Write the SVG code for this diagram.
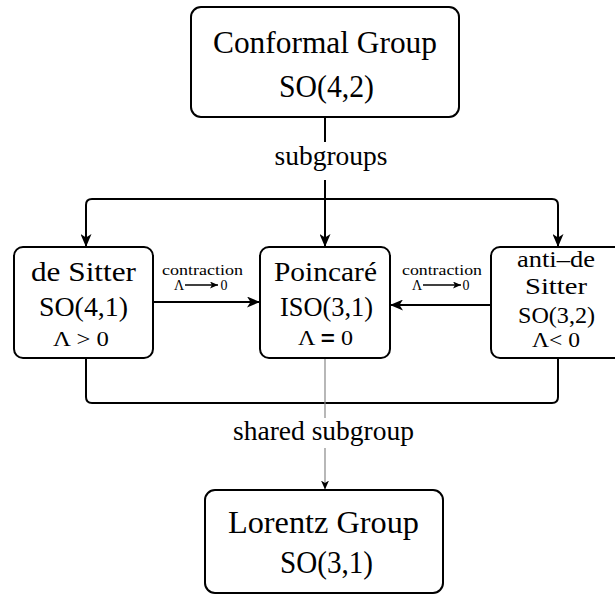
<svg xmlns="http://www.w3.org/2000/svg" width="615" height="594" viewBox="0 0 615 594">
<defs>
<style>
.box{fill:#fff;stroke:#000;stroke-width:2}
.ln{fill:none;stroke:#000;stroke-width:2}
.gl{fill:none;stroke:#888;stroke-width:1.2}
.sl{fill:none;stroke:#000;stroke-width:1.3}
text{fill:#000;text-anchor:middle}
.big{font-size:31px}
.mid{font-size:27px}
.ads{font-size:24px}
.lam{font-size:21px}
.sm{font-size:14px}
</style>
<marker id="arr" viewBox="0 0 13 11" refX="12" refY="5.5" markerWidth="13" markerHeight="11" orient="auto" markerUnits="userSpaceOnUse">
<path d="M0,0 L13,5.5 L0,11 L3.5,5.5 Z" fill="#000"/>
</marker>
<marker id="arrS" viewBox="0 0 9 8" refX="8.5" refY="4" markerWidth="9" markerHeight="8" orient="auto" markerUnits="userSpaceOnUse">
<path d="M0,0 L9,4 L0,8 L2.5,4 Z" fill="#000"/>
</marker>
<marker id="arrT" viewBox="0 0 8 7" refX="8" refY="3.5" markerWidth="8" markerHeight="7" orient="auto" markerUnits="userSpaceOnUse">
<path d="M0,0 L8,3.5 L0,7 L2,3.5 Z" fill="#000"/>
</marker>
</defs>
<rect width="615" height="594" fill="#fff"/>

<g font-family="Liberation Serif, DejaVu Serif, serif">
<g id="connectors">
<path class="ln" d="M325,117 V142"/>
<path class="ln" d="M325,180 V199"/>
<path class="ln" d="M86,246 V205 Q86,199 92,199 H552 Q558,199 558,205 V246" marker-end="url(#arr)"/>
<path class="ln" d="M86,205 V246" marker-end="url(#arr)"/>
<path class="ln" d="M325,199 V246" marker-end="url(#arr)"/>
<path class="ln" d="M153,302 H259" marker-end="url(#arr)"/>
<path class="ln" d="M491,305 H391" marker-end="url(#arr)"/>
<path class="ln" d="M86,358 V397 Q86,403 92,403 H552 Q558,403 558,397 V358"/>
<path class="gl" d="M325,358 V418"/>
<path class="gl" d="M325,448 V489" marker-end="url(#arrS)"/>
<text class="mid" x="331" y="165" textLength="113" lengthAdjust="spacingAndGlyphs">subgroups</text>
<text class="mid" x="323.5" y="440" textLength="181" lengthAdjust="spacingAndGlyphs">shared subgroup</text>
<g id="label-contraction-left">
<text class="sm" x="202.5" y="275" textLength="81" lengthAdjust="spacingAndGlyphs">contraction</text>
<text class="sm" x="179" y="290" font-size="16">Λ</text>
<path class="sl" d="M185,285 H218" marker-end="url(#arrT)"/>
<text class="sm" x="224" y="290">0</text>
</g>
<g id="label-contraction-right">
<text class="sm" x="442" y="275" textLength="80" lengthAdjust="spacingAndGlyphs">contraction</text>
<text class="sm" x="417" y="290" font-size="16">Λ</text>
<path class="sl" d="M423,285 H461" marker-end="url(#arrT)"/>
<text class="sm" x="466" y="290">0</text>
</g>
</g>

<g id="conformal">
<rect class="box" x="191" y="7" width="268" height="110" rx="10"/>
<text class="big" x="325" y="53" textLength="224" lengthAdjust="spacingAndGlyphs">Conformal Group</text>
<text class="big" x="326.5" y="97" textLength="95" lengthAdjust="spacingAndGlyphs">SO(4,2)</text>
</g>

<g id="desitter">
<rect class="box" x="14" y="247" width="139" height="111" rx="9"/>
<text class="mid" x="83.5" y="281" textLength="105" lengthAdjust="spacingAndGlyphs">de Sitter</text>
<text class="mid" x="83.5" y="316" textLength="89" lengthAdjust="spacingAndGlyphs">SO(4,1)</text>
<text class="lam" x="81" y="346" textLength="56" lengthAdjust="spacingAndGlyphs">Λ &gt; 0</text>
</g>

<g id="poincare">
<rect class="box" x="260" y="247" width="130" height="111" rx="9"/>
<text class="mid" x="325.5" y="281" textLength="103" lengthAdjust="spacingAndGlyphs">Poincaré</text>
<text class="mid" x="326.5" y="316" textLength="93" lengthAdjust="spacingAndGlyphs">ISO(3,1)</text>
<text class="lam" x="325.5" y="345" textLength="55" lengthAdjust="spacingAndGlyphs">Λ <tspan font-family="Liberation Sans, sans-serif" font-weight="bold">=</tspan> 0</text>
</g>

<g id="antidesitter">
<rect class="box" x="491" y="247" width="134" height="111" rx="9"/>
<text class="ads" x="556" y="267" textLength="78" lengthAdjust="spacingAndGlyphs">anti–de</text>
<text class="ads" x="556" y="294" textLength="62" lengthAdjust="spacingAndGlyphs">Sitter</text>
<text class="ads" x="556.5" y="323" textLength="77" lengthAdjust="spacingAndGlyphs">SO(3,2)</text>
<text class="lam" x="556" y="347" textLength="48" lengthAdjust="spacingAndGlyphs">Λ&lt; 0</text>
</g>

<g id="lorentz">
<rect class="box" x="205" y="490" width="238" height="103" rx="10"/>
<text class="big" x="323.5" y="533" textLength="191" lengthAdjust="spacingAndGlyphs">Lorentz Group</text>
<text class="big" x="326.5" y="573" textLength="93" lengthAdjust="spacingAndGlyphs">SO(3,1)</text>
</g>
</g>
</svg>
